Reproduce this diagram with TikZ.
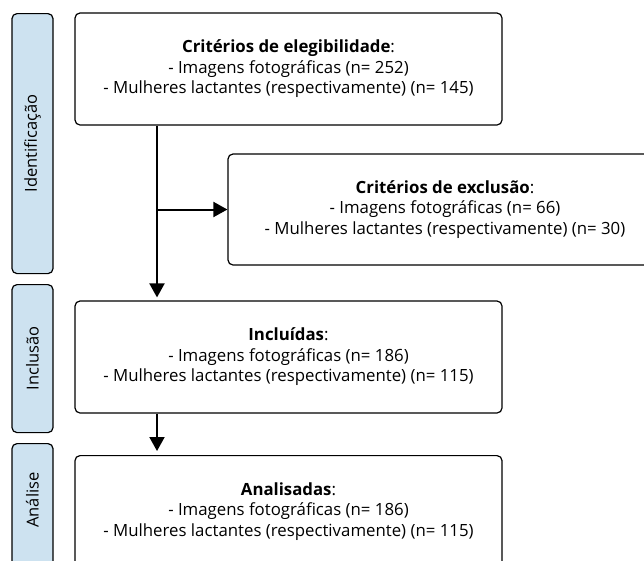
\documentclass[tikz,border=0pt]{standalone}
\usepackage{fontspec}
\setmainfont{Open Sans}
\usetikzlibrary{arrows.meta}
\definecolor{sidefill}{RGB}{205,226,240}
\begin{document}
\begin{tikzpicture}[x=1pt,y=-1pt,
 box/.style={draw, line width=1.2pt, rounded corners=5pt, align=center,
   font=\fontsize{16.8}{20.5}\selectfont, inner sep=0pt},
 side/.style={draw, line width=1.2pt, rounded corners=5pt, fill=sidefill,
   minimum width=41pt, inner sep=0pt, anchor=north},
 sidetext/.style={font=\fontsize{16.5}{18}\selectfont, inner sep=0pt},
 arr/.style={line width=2pt, -{Triangle[length=14pt,width=15pt]}},
]
\useasboundingbox (0,0) rectangle (644,560);
% side labels
\node[side, minimum height=260pt] (s1) at (32.5,13) {};
\node[sidetext] (s1t) at (s1.center) {\rotatebox{90}{Identificação}};
\node[side, minimum height=148pt] (s2) at (32.5,284) {};
\node[sidetext] (s2t) at (s2.center) {\rotatebox{90}{Inclusão}};
\node[side, minimum height=130pt] (s3) at (32.5,443) {};
\node[sidetext] (s3t) at (32.5,500) {\rotatebox{90}{Análise}};
% main boxes
\node[box, minimum width=427pt, minimum height=112pt] (b1) at (288.5,69)
 {\textbf{Critérios de elegibilidade}:\\- Imagens fotográficas (n= 252)\\- Mulheres lactantes (respectivamente) (n= 145)};
\node[box, minimum width=434pt, minimum height=111pt] (b2) at (445,209.5)
 {\textbf{Critérios de exclusão}:\\- Imagens fotográficas (n= 66)\\- Mulheres lactantes (respectivamente) (n= 30)};
\node[box, minimum width=427pt, minimum height=112pt] (b3) at (288.5,357)
 {\textbf{Incluídas}:\\- Imagens fotográficas (n= 186)\\- Mulheres lactantes (respectivamente) (n= 115)};
\node[box, minimum width=427pt, minimum height=112pt, anchor=north] (b4) at (288.5,455)
 {\textbf{Analisadas}:\\- Imagens fotográficas (n= 186)\\- Mulheres lactantes (respectivamente) (n= 115)};
% connectors
\coordinate (j) at (157,209.5);
\draw[arr, shorten >=3pt] (b1.south -| j) -- (b3.north -| j);
\draw[arr] (j) -- (b2.west);
\draw[arr, shorten >=4pt] (b3.south -| j) -- (b4.north -| j);
\end{tikzpicture}
\end{document}
